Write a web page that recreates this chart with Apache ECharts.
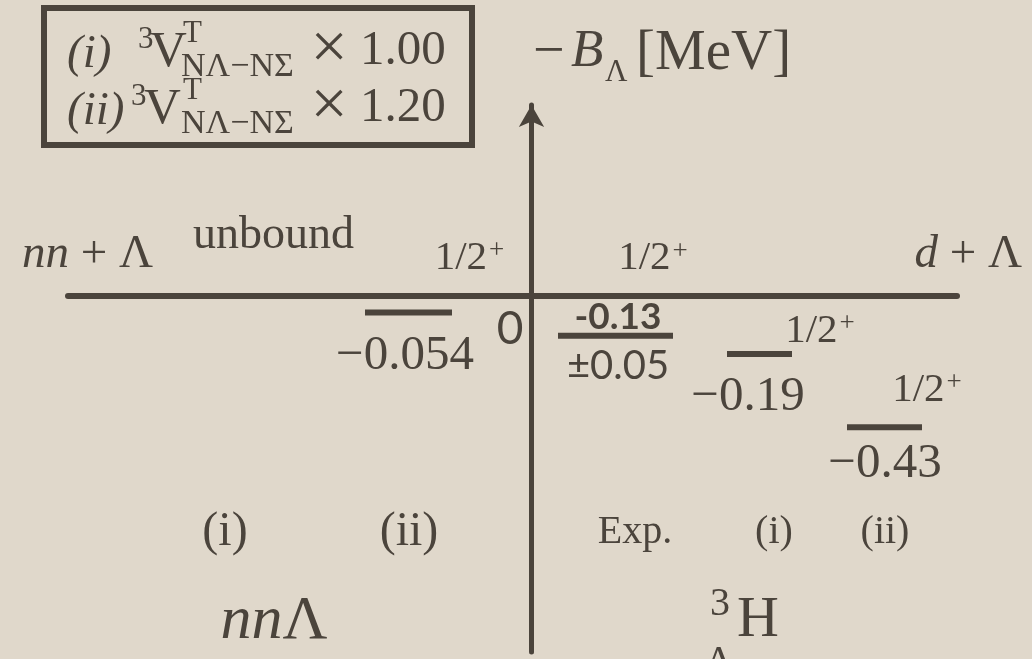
<!DOCTYPE html>
<html>
<head>
<meta charset="utf-8">
<script src="https://cdn.jsdelivr.net/npm/echarts@6/dist/echarts.min.js"></script>
<style>
  html, body { margin: 0; padding: 0; background: #e0d8cb; }
  #chart { width: 1032px; height: 659px; }
</style>
</head>
<body>
<div id="chart"></div>
<script>
// Λ separation energies of the nnΛ and hypertriton 1/2+ states (MeV)
const columnLabels = ['(i)', '(ii)', 'Exp.', '(i)', '(ii)'];
const systemLabels = ['nnΛ', 'H'];
const levelEnergies = [null, -0.054, -0.13, -0.19, -0.43];
const expError = 0.05;
const spinLabels = ['', '1/2', '1/2', '1/2', '1/2'];
const strengthFactors = ['1.00', '1.20'];
const thresholdLabels = ['nn', 'd'];
const unboundText = 'unbound';

const INK = '#4b443c';
const SERIF = '"Liberation Serif", "DejaVu Serif", serif';
const SANS = 'Lato, "Noto Sans", sans-serif';

// column centres on the x scale (0 = energy axis)
const columnX = [-3.065, -1.225, 1.035, 2.425, 3.535];
// bar centre / width on the x scale, label offsets in px from bar centre
const levelLayout = [
  null,
  { cx: -1.23, w: 0.87, val: [-3.5, 43.5], spin: [61, -54.5], valFont: 'serif' },
  { cx: 0.84,  w: 1.15, val: [2.5, -19],   err: [2.5, 30], spin: [37.5, -77], valFont: 'sans' },
  { cx: 2.28,  w: 0.65, val: [-11.5, 43],  spin: [60.5, -23], valFont: 'serif' },
  { cx: 3.53,  w: 0.75, val: [0.5, 37],    spin: [42.5, -37], valFont: 'serif' }
];
const columnFont = [48, 48, 40, 40, 40];

function minusLabel(v) { return '\u2212' + Math.abs(v).toString(); }

const levelData = [];
levelEnergies.forEach(function (e, i) {
  if (e !== null) levelData.push([levelLayout[i].cx, e, i]);
});

function txt(text, x, y, size, opts) {
  opts = opts || {};
  return {
    type: 'text', x: x, y: y, silent: true,
    style: {
      text: text, fill: INK,
      fontFamily: opts.family || SERIF, fontSize: size,
      fontStyle: opts.italic ? 'italic' : 'normal',
      fontWeight: opts.bold ? 'bold' : 'normal',
      align: opts.align || 'left', verticalAlign: 'middle',
      rich: opts.rich
    }
  };
}

function spinText(x, y) {
  return {
    type: 'text', x: x, y: y, silent: true,
    style: {
      text: '{a|1/2}{b|+}', align: 'center', verticalAlign: 'middle', fill: INK,
      rich: {
        a: { fontFamily: SERIF, fontSize: 41, fill: INK },
        b: { fontFamily: SERIF, fontSize: 27, fill: INK, verticalAlign: 'top', padding: [0, 0, 0, 2] }
      }
    }
  };
}

function renderLevel(params, api) {
  const i = api.value(2);
  const L = levelLayout[i];
  const e = api.value(1);
  const p0 = api.coord([L.cx - L.w / 2, e]);
  const p1 = api.coord([L.cx + L.w / 2, e]);
  const cx = (p0[0] + p1[0]) / 2;
  const cy = p0[1];
  const kids = [{
    type: 'line', silent: true,
    shape: { x1: p0[0], y1: cy, x2: p1[0], y2: cy },
    style: { stroke: INK, lineWidth: 6 }
  }];
  if (L.valFont === 'sans') {
    kids.push(txt('-' + Math.abs(e).toString(), cx + L.val[0], cy + L.val[1], 37,
      { family: SANS, bold: true, align: 'center' }));
    kids.push(txt('\u00b1' + expError.toFixed(2), cx + L.err[0], cy + L.err[1], 40,
      { family: SANS, align: 'center' }));
  } else {
    kids.push(txt(minusLabel(e), cx + L.val[0], cy + L.val[1], 49, { align: 'center' }));
  }
  if (spinLabels[i]) kids.push(spinText(cx + L.spin[0], cy + L.spin[1]));
  return { type: 'group', children: kids };
}

function renderColumn(params, api) {
  const i = api.value(1);
  const x = api.coord([api.value(0), 0])[0];
  return txt(columnLabels[i], x, 532, columnFont[i], { align: 'center' });
}

// legend box with the two tensor-coupling strengths
const legend = [{
  type: 'rect', silent: true,
  shape: { x: 44, y: 8, width: 428, height: 137 },
  style: { fill: 'none', stroke: INK, lineWidth: 6 }
}];
['(i)', '(ii)'].forEach(function (tag, r) {
  const dy = r * 57;
  legend.push(txt(tag, 67, 55 + dy, 47, { italic: true }));
  legend.push(txt('3', r ? 131 : 138, 40 + dy, 31));
  legend.push(txt('V', r ? 144 : 150, 53 + dy, 51));
  legend.push(txt('T', 183, 34 + dy, 31));
  legend.push(txt('N\u039b\u2212N\u03a3', 181, 67 + dy, 34));
  legend.push(txt('\u00d7', 329, 51 + dy, 66, { align: 'center' }));
  legend.push(txt(strengthFactors[r], 360, 51 + dy, 49));
});

const labels = legend.concat([
  // axis title
  txt('\u2212', 533, 53, 56),
  txt('B', 571, 52, 53, { italic: true }),
  txt('\u039b', 605, 73, 31),
  txt('[MeV]', 636, 54, 57),
  // thresholds
  {
    type: 'text', x: 22, y: 255, silent: true,
    style: {
      text: '{i|' + thresholdLabels[0] + '}{u| + \u039b}', verticalAlign: 'middle',
      rich: {
        i: { fontFamily: SERIF, fontSize: 47, fontStyle: 'italic', fill: INK },
        u: { fontFamily: SERIF, fontSize: 47, fill: INK }
      }
    }
  },
  {
    type: 'text', x: 1022, y: 255, silent: true,
    style: {
      text: '{i|' + thresholdLabels[1] + '}{u| + \u039b}', align: 'right', verticalAlign: 'middle',
      rich: {
        i: { fontFamily: SERIF, fontSize: 47, fontStyle: 'italic', fill: INK },
        u: { fontFamily: SERIF, fontSize: 47, fill: INK }
      }
    }
  },
  txt(unboundText, 193, 236, 46),
  txt('0', 510, 329, 46, { family: SANS, align: 'center' }),
  // system names
  {
    type: 'text', x: 274, y: 622, silent: true,
    style: {
      text: '{i|nn}{u|\u039b}', align: 'center', verticalAlign: 'middle',
      rich: {
        i: { fontFamily: SERIF, fontSize: 62, fontStyle: 'italic', fill: INK },
        u: { fontFamily: SERIF, fontSize: 62, fill: INK }
      }
    }
  },
  txt('3', 720, 604, 40, { align: 'center' }),
  txt('\u039b', 719, 662, 40, { align: 'center' }),
  txt(systemLabels[1], 737, 621, 58)
]);

const chart = echarts.init(document.getElementById('chart'), null, { renderer: 'canvas' });
chart.setOption({
  backgroundColor: '#e0d8cb',
  animation: false,
  grid: { left: 68, right: 75, top: 105, bottom: 7 },
  xAxis: {
    type: 'value', min: -4.635, max: 4.255,
    axisLine: { show: true, onZero: true, lineStyle: { color: INK, width: 6 } },
    axisTick: { show: false }, axisLabel: { show: false }, splitLine: { show: false }
  },
  yAxis: {
    type: 'value', min: -1.1672, max: 0.6262,
    axisLine: {
      show: true, onZero: true, symbol: ['none', 'arrow'], symbolSize: [19, 22],
      lineStyle: { color: INK, width: 5 }
    },
    axisTick: { show: false }, axisLabel: { show: false }, splitLine: { show: false }
  },
  series: [
    {
      type: 'custom', name: 'levels', clip: false, silent: true,
      renderItem: renderLevel, data: levelData
    },
    {
      type: 'custom', name: 'columns', clip: false, silent: true,
      renderItem: renderColumn,
      data: columnX.map(function (x, i) { return [x, i]; })
    }
  ],
  graphic: labels
});
</script>
</body>
</html>
